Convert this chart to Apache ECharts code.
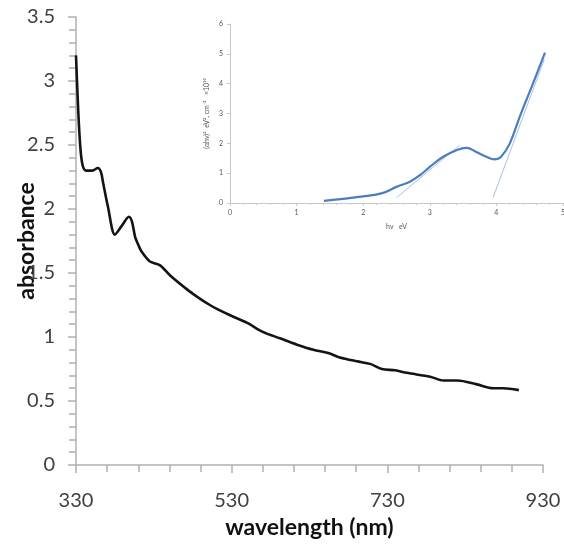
<!DOCTYPE html>
<html>
<head>
<meta charset="utf-8">
<script src="https://cdn.jsdelivr.net/npm/echarts@6/dist/echarts.min.js"></script>
<style>
html,body{margin:0;padding:0;background:#fff;}
#chart{width:564px;height:552px;}
</style>
</head>
<body>
<div id="chart"></div>
<script>
// Main spectrum: wavelength (nm) and absorbance
const wavelength = [330, 333, 336, 339, 343, 351, 358, 362, 365, 371, 380, 389, 398, 402, 406, 410, 414, 425, 438, 451, 473, 489, 502, 511, 528, 550, 570, 592, 614, 635, 654, 669, 691, 708, 723, 740, 755, 785, 802, 820, 845, 866, 879, 899];
const absorbance = [3.20, 2.75, 2.45, 2.33, 2.30, 2.30, 2.32, 2.29, 2.20, 2.02, 1.80, 1.87, 1.94, 1.90, 1.78, 1.72, 1.67, 1.59, 1.56, 1.48, 1.37, 1.30, 1.25, 1.22, 1.17, 1.11, 1.04, 0.99, 0.94, 0.90, 0.875, 0.84, 0.81, 0.79, 0.75, 0.74, 0.72, 0.69, 0.66, 0.66, 0.63, 0.60, 0.60, 0.585];
const xTickLabels = [330, 530, 730, 930];

// Inset: Tauc plot
const photonEnergy = [1.41, 2.0, 2.3, 2.5, 2.7, 2.85, 3.0, 3.2, 3.4, 3.55, 3.7, 3.85, 3.97, 4.07, 4.2, 4.35, 4.55, 4.73];
const taucValue = [0.07, 0.22, 0.34, 0.54, 0.71, 0.93, 1.21, 1.55, 1.77, 1.85, 1.71, 1.55, 1.46, 1.55, 1.99, 2.89, 4.01, 5.04];
const fit1Energy = [2.5, 3.45];
const fit1Value = [0.18, 1.94];
const fit2Energy = [3.95, 4.72];
const fit2Value = [0.18, 4.82];

const X0 = xTickLabels[0];
const mainData = wavelength.map((w, i) => [w - X0, absorbance[i]]);
const taucData = photonEnergy.map((e, i) => [e, taucValue[i]]);
const fit1 = fit1Energy.map((e, i) => [e, fit1Value[i]]);
const fit2 = fit2Energy.map((e, i) => [e, fit2Value[i]]);

const chart = echarts.init(document.getElementById('chart'), null, {renderer: 'canvas'});
const FONT = 'Lato, "Open Sans", sans-serif';
const axisGray = '#b0b0b0';
chart.setOption({
  animation: false,
  backgroundColor: '#fff',
  grid: [
    {left: 76, top: 17, width: 467, height: 448, containLabel: false, outerBoundsMode: 'none'},
    {left: 230, top: 24, width: 333, height: 179, containLabel: false, outerBoundsMode: 'none'}
  ],
  xAxis: [
    {
      gridIndex: 0, type: 'value', min: 0, max: xTickLabels[3] - X0, interval: 200,
      name: 'wavelength (nm)', nameLocation: 'middle', nameGap: 51, nameMoveOverlap: false,
      nameTextStyle: {fontFamily: FONT, fontSize: 23, fontWeight: 'bold', color: '#111'},
      axisLine: {show: true, lineStyle: {color: axisGray, width: 1.5}},
      axisTick: {show: true, length: 8, lineStyle: {color: axisGray, width: 1.5}},
      minorTick: {show: true, splitNumber: 5, length: 7, lineStyle: {color: axisGray, width: 1.5}},
      axisLabel: {margin: 26, fontFamily: FONT, fontSize: 20, color: '#404040', formatter: v => String(v + X0)},
      splitLine: {show: false}
    },
    {
      gridIndex: 1, type: 'value', min: 0, max: 5, interval: 1,
      name: 'hν   eV', nameLocation: 'middle', nameGap: 20, nameMoveOverlap: false,
      nameTextStyle: {fontFamily: FONT, fontSize: 7, color: '#555'},
      axisLine: {show: true, lineStyle: {color: '#c8c8c8', width: 1}},
      axisTick: {show: true, length: 3, lineStyle: {color: '#c8c8c8'}},
      minorTick: {show: true, splitNumber: 5, length: 2, lineStyle: {color: '#c8c8c8'}},
      axisLabel: {margin: 6, fontFamily: FONT, fontSize: 7, color: '#555'},
      splitLine: {show: false}
    }
  ],
  yAxis: [
    {
      gridIndex: 0, type: 'value', min: 0, max: 3.5, interval: 0.5,
      name: 'absorbance', nameLocation: 'middle', nameGap: 38, nameRotate: 90, nameMoveOverlap: false,
      nameTextStyle: {fontFamily: FONT, fontSize: 23, fontWeight: 'bold', color: '#111'},
      axisLine: {show: true, lineStyle: {color: axisGray, width: 1.5}},
      axisTick: {show: true, length: 8, lineStyle: {color: axisGray, width: 1.5}},
      minorTick: {show: true, splitNumber: 5, length: 7, lineStyle: {color: axisGray, width: 1.5}},
      axisLabel: {margin: 21, fontFamily: FONT, fontSize: 20, color: '#404040'},
      splitLine: {show: false}
    },
    {
      gridIndex: 1, type: 'value', min: 0, max: 6, interval: 1,
      name: '(αhν)²  eV², cm⁻²   ×10¹⁰', nameLocation: 'middle', nameGap: 20, nameRotate: 90, nameMoveOverlap: false,
      nameTextStyle: {fontFamily: FONT, fontSize: 7, color: '#555'},
      axisLine: {show: true, lineStyle: {color: '#c8c8c8', width: 1}},
      axisTick: {show: true, length: 3, lineStyle: {color: '#c8c8c8'}},
      axisLabel: {margin: 7, fontFamily: FONT, fontSize: 7, color: '#555'},
      splitLine: {show: false}
    }
  ],
  series: [
    {
      type: 'line', xAxisIndex: 0, yAxisIndex: 0, data: mainData, smooth: 0.3,
      showSymbol: false, lineStyle: {color: '#141414', width: 2.6}
    },
    {
      type: 'line', xAxisIndex: 1, yAxisIndex: 1, data: fit1, showSymbol: false,
      lineStyle: {color: '#a9c0e2', width: 1}
    },
    {
      type: 'line', xAxisIndex: 1, yAxisIndex: 1, data: fit2, showSymbol: false,
      lineStyle: {color: '#a9c0e2', width: 1}
    },
    {
      type: 'line', xAxisIndex: 1, yAxisIndex: 1, data: taucData, smooth: 0.4,
      showSymbol: false, lineStyle: {color: '#4a7ebf', width: 2.2}
    }
  ]
});
</script>
</body>
</html>
